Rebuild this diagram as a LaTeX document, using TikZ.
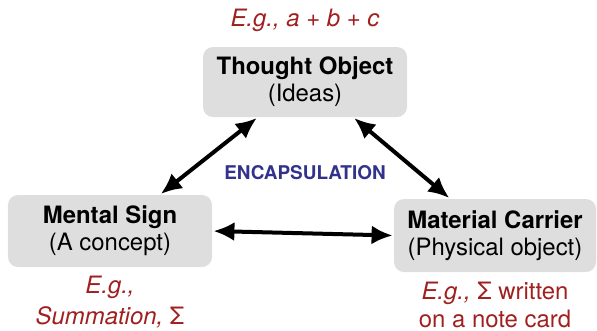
\documentclass[tikz,border=0pt]{standalone}
\usepackage{fontspec}
\setmainfont{TeX Gyre Heros}
\usepackage{xcolor}
\usepackage{tikz}
\usetikzlibrary{arrows.meta}
\definecolor{egred}{RGB}{160,32,32}
\definecolor{encblue}{RGB}{50,50,140}
\definecolor{boxgray}{RGB}{222,222,222}
\tikzset{
  cornerbox/.style={fill=boxgray,rounded corners=5bp,align=center,inner sep=0pt,
    minimum width=102bp,font=\fontsize{12}{13.5}\selectfont},
  eglabel/.style={text=egred,align=center,font=\fontsize{12}{14}\selectfont},
  dblarrow/.style={line width=2bp,{Latex[length=10.5bp,width=9.5bp]}-{Latex[length=10.5bp,width=9.5bp]},shorten <=0.5bp,shorten >=0.5bp}
}

\begin{document}
\begin{tikzpicture}[x=0.5bp,y=-0.5bp]
  \useasboundingbox (0,0) rectangle (597,330);
  % the three corners
  \node[cornerbox,minimum height=35bp] (thought) at (305,82) {\textbf{Thought Object}\\(Ideas)};
  \node[cornerbox,minimum height=36bp] (mental) at (110,231) {\textbf{Mental Sign}\\(A concept)};
  \node[cornerbox,minimum width=101bp,minimum height=36.5bp] (material) at (495,235.5) {\textbf{Material Carrier}\\(Physical object)};
  % examples
  \node[eglabel] (egthought) at (305,20) {\textit{E.g., a + b + c}};
  \node[eglabel,font=\fontsize{12}{15.5}\selectfont] (egmental) at (110,302) {\textit{E.g.,}\\\textit{Summation,} Σ};
  \node[eglabel] (egmaterial) at (495,305) {\textit{E.g.,} Σ written\\on a note card};
  \node[text=encblue,font=\fontsize{9.5}{11}\selectfont\bfseries] (encap) at (305,173) {ENCAPSULATION};
  % links
  \draw[dblarrow] ([xshift=27.5bp]thought.south west) -- ([xshift=25bp]mental.north);
  \draw[dblarrow] ([xshift=-27bp]thought.south east) -- ([xshift=-22.5bp]material.north);
  \draw[dblarrow] (mental.east) -- (material.west);
\end{tikzpicture}
\end{document}
